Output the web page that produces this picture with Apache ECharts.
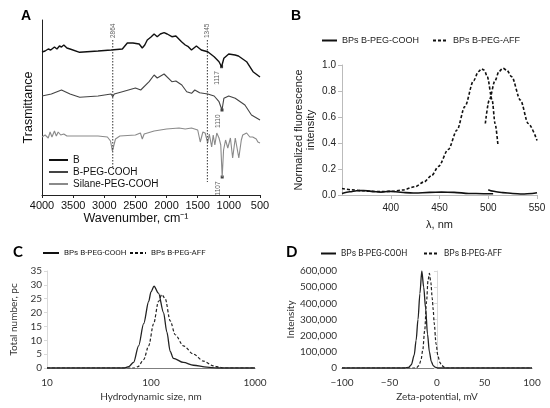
<!DOCTYPE html>
<html>
<head>
<meta charset="utf-8">
<title>FTIR, fluorescence, size and zeta potential</title>
<script src="https://cdn.jsdelivr.net/npm/echarts@6/dist/echarts.min.js"></script>
<style>
  html, body { margin: 0; padding: 0; background: #fff; }
  #chart { width: 550px; height: 408px; }
</style>
</head>
<body>
<div id="chart"></div>
<script>
// A: FTIR spectra, [wavenumber cm-1, transmittance a.u. (offset traces)]
const ftirB = [
  [4000, 143], [3950, 144], [3900, 146], [3860, 145], [3800, 148], [3760, 146], [3720, 149],
  [3687, 148], [3650, 150], [3600, 147], [3550, 146], [3395, 142.7], [3100, 144], [2891, 145],
  [2710, 146], [2630, 152], [2540, 152], [2440, 151], [2390, 147], [2350, 150], [2310, 155],
  [2250, 158], [2200, 161], [2170, 159], [2150, 158.3], [2100, 161], [2040, 162.3], [1990, 161],
  [1915, 158.3], [1850, 159], [1760, 153.3], [1700, 150], [1651, 148.3], [1600, 145], [1573, 143.3],
  [1521, 149], [1490, 147], [1443, 145], [1339, 143.3], [1236, 138.3], [1158, 133.3], [1117, 128.3],
  [1080, 136.7], [1002, 141], [900, 140], [846, 139], [715, 133.3], [612, 123.3], [500, 118]
];
const ftirBPeg = [
  [4000, 99], [3850, 101], [3687, 105], [3550, 101], [3395, 97.7], [3100, 99], [2891, 101],
  [2864, 98.3], [2840, 101], [2710, 103.3], [2500, 107], [2415, 105], [2280, 113.3], [2200, 120],
  [2150, 117], [2040, 121], [1915, 113.3], [1850, 114], [1755, 110], [1677, 103.3], [1599, 101.7],
  [1547, 105], [1469, 102.3], [1339, 101], [1236, 99], [1158, 93.3], [1110, 85], [1080, 96.7],
  [1002, 99], [898, 96.7], [742, 90], [637, 80], [500, 75]
];
const ftirSilane = [
  [4000, 58], [3950, 60], [3900, 57], [3870, 63], [3840, 58], [3800, 64], [3770, 59], [3740, 63],
  [3700, 60], [3650, 61], [3600, 59], [3400, 59], [3100, 59], [2950, 58], [2900, 54], [2870, 44],
  [2850, 46], [2820, 56], [2750, 59], [2500, 60], [2420, 62], [2390, 56], [2360, 61], [2200, 64],
  [2000, 66], [1800, 67], [1700, 66], [1600, 67], [1500, 65], [1459, 53], [1417, 63], [1381, 62],
  [1339, 52], [1314, 61], [1276, 48], [1251, 60], [1225, 50], [1194, 62], [1158, 57], [1130, 50],
  [1107, 18], [1085, 45], [1053, 55], [1017, 47], [975, 57], [939, 37], [897, 57], [840, 37],
  [800, 55], [777, 60], [715, 62], [663, 58], [617, 58], [560, 56], [534, 53], [500, 52]
];
const ftirPeaks = [[1117, 128.3], [1110, 85], [1107, 18]];
const ftirGuides = [[2864, 155, 28], [1345, 155, 13]];

// B: normalized fluorescence, [wavelength nm, intensity]
const flCoohExc = [
  [350, 0.012], [358, 0.025], [365, 0.033], [372, 0.035], [380, 0.028], [390, 0.022], [398, 0.028],
  [405, 0.025], [415, 0.018], [425, 0.015], [440, 0.02], [452, 0.022], [465, 0.02], [480, 0.012],
  [495, 0.01], [505, 0.01]
];
const flCoohEm = [
  [500, 0.04], [503, 0.032], [508, 0.025], [515, 0.018], [525, 0.012], [535, 0.008], [545, 0.012], [550, 0.018]
];
const flAffExc = [
  [350, 0.05], [360, 0.04], [370, 0.033], [380, 0.028], [391, 0.026], [400, 0.028], [412, 0.038],
  [425, 0.064], [434, 0.10], [442, 0.15], [449, 0.22], [459, 0.35], [468, 0.50], [476, 0.68],
  [485, 0.88], [490, 0.95], [493, 0.97], [496, 0.96], [499, 0.91], [504, 0.73], [507, 0.55], [510, 0.38]
];
const flAffEm = [
  [497, 0.55], [501, 0.73], [507, 0.88], [511, 0.95], [515, 0.975], [519, 0.96], [524, 0.91],
  [533, 0.73], [541, 0.55], [550, 0.42]
];

// C: hydrodynamic size distribution, [size nm, number %]
const sizeCooh = [
  [10, 0], [55, 0], [61, 0.5], [68, 2], [76, 8], [85, 16], [95, 24], [100, 27.5], [107, 29.5],
  [118, 27], [132, 20], [142, 13], [153, 6], [164, 3.5], [205, 2], [256, 1], [344, 0.3], [430, 0], [1000, 0]
];
const sizeAff = [
  [10, 0], [70, 0], [75, 0.5], [85, 3], [95, 8], [106, 16], [118, 24], [127, 26.5], [137, 25],
  [153, 17], [171, 12], [205, 8], [256, 5], [319, 2.5], [398, 0.8], [461, 0.2], [500, 0], [1000, 0]
];

// D: zeta potential distribution, [mV, intensity]
const zetaCooh = [
  [-100, 0], [-34, 0], [-30, 4000], [-27, 20000], [-24, 80000], [-22, 170000], [-20, 300000],
  [-18, 460000], [-16, 600000], [-14, 500000], [-12, 370000], [-10, 210000], [-8, 100000],
  [-6, 40000], [-4, 15000], [-2, 5000], [1, 0], [100, 0]
];
const zetaAff = [
  [-100, 0], [-22, 0], [-19, 15000], [-17, 45000], [-15, 110000], [-13, 230000], [-11, 410000],
  [-9.5, 540000], [-8, 585000], [-6.5, 530000], [-5, 430000], [-4, 360000], [-3, 280000],
  [-1, 150000], [1, 75000], [3, 35000], [5, 15000], [8, 4000], [11, 0], [100, 0]
];

const ftirNames = ['B', 'B-PEG-COOH', 'Silane-PEG-COOH'];
const sampleNames = ['BPs B-PEG-COOH', 'BPs B-PEG-AFF'];

const ARIAL = 'Liberation Sans, Arial, sans-serif';
const CALIBRI = 'Lato, Carlito, sans-serif';
const SMALL = 'Roboto, Liberation Sans, sans-serif';

const chart = echarts.init(document.getElementById('chart'), null, { renderer: 'canvas' });

function curve(name, data, grid, color, width, dashed) {
  return {
    name: name,
    type: 'line',
    xAxisIndex: grid,
    yAxisIndex: grid,
    data: data,
    symbol: 'none',
    smooth: grid === 0 ? false : 0.3,
    smoothMonotone: 'x',
    lineStyle: { color: color, width: width, type: dashed ? [3, 2] : 'solid' },
    itemStyle: { color: color },
    emphasis: { disabled: true }
  };
}

// one legend entry, line icon only
function legendItem(name, left, top, font, size, width) {
  return {
    data: [name], left: left, top: top, padding: 0,
    itemWidth: width, itemHeight: 8, selectedMode: false,
    itemStyle: { opacity: 0 },
    textStyle: { fontSize: size, fontFamily: font, color: '#222' }
  };
}

const series = [
  curve(ftirNames[0], ftirB, 0, '#111', 1.4),
  curve(ftirNames[1], ftirBPeg, 0, '#444', 1.1),
  curve(ftirNames[2], ftirSilane, 0, '#8a8a8a', 1.1),
  curve(sampleNames[0], flCoohExc, 1, '#111', 1.6),
  curve(sampleNames[0], flCoohEm, 1, '#111', 1.6),
  curve(sampleNames[1], flAffExc, 1, '#111', 1.6, true),
  curve(sampleNames[1], flAffEm, 1, '#111', 1.6, true),
  curve(sampleNames[0], sizeCooh, 2, '#222', 1.3),
  curve(sampleNames[1], sizeAff, 2, '#222', 1.2, true),
  curve(sampleNames[0], zetaCooh, 3, '#222', 1.3),
  curve(sampleNames[1], zetaAff, 3, '#222', 1.2, true)
];

// dotted guide lines and their labels in panel A
ftirGuides.forEach(function (g) {
  series.push({
    type: 'line', xAxisIndex: 0, yAxisIndex: 0, symbol: 'none', silent: true,
    data: [[g[0], g[1]], [g[0], g[2]]],
    lineStyle: { color: '#333', width: 1, type: [1.5, 1.5] }
  });
});
series.push({
  type: 'scatter', xAxisIndex: 0, yAxisIndex: 0, symbolSize: 0, silent: true,
  data: ftirGuides.map(function (g) { return [g[0], g[1]]; }),
  label: {
    show: true, position: 'top', distance: 2, rotate: 90, align: 'left', verticalAlign: 'middle',
    fontSize: 6.5, color: '#333', fontFamily: ARIAL,
    formatter: function (p) { return String(p.value[0]); }
  }
});
series.push({
  type: 'scatter', xAxisIndex: 0, yAxisIndex: 0, symbol: 'rect', symbolSize: 3, silent: true,
  data: ftirPeaks,
  itemStyle: { color: '#111' },
  label: {
    show: true, position: 'bottom', distance: 3, offset: [0, -4], rotate: 90, align: 'right', verticalAlign: 'middle',
    fontSize: 6.5, color: '#333', fontFamily: ARIAL,
    formatter: function (p) { return String(p.value[0]); }
  }
});

const plain = function (v) { return String(v); };

const option = {
  animation: false,
  backgroundColor: '#fff',
  title: [
    { text: 'A', left: 16, top: 4, textStyle: { fontSize: 14, fontWeight: 'bold', fontFamily: ARIAL, color: '#000' } },
    { text: 'B', left: 286, top: 4, textStyle: { fontSize: 14, fontWeight: 'bold', fontFamily: ARIAL, color: '#000' } },
    { text: 'C', left: 8, top: 240, textStyle: { fontSize: 15, fontWeight: 'bold', fontFamily: CALIBRI, color: '#000' } },
    { text: 'D', left: 281, top: 240, textStyle: { fontSize: 15, fontWeight: 'bold', fontFamily: CALIBRI, color: '#000' } }
  ],
  legend: [
    {
      data: ftirNames, orient: 'vertical', left: 48, top: 154, padding: 0, selectedMode: false,
      itemWidth: 19, itemHeight: 8, itemGap: 0,
      itemStyle: { opacity: 0 },
      lineStyle: { width: 2 },
      textStyle: { fontSize: 10, lineHeight: 12, fontFamily: ARIAL, color: '#111' }
    },
    legendItem(sampleNames[0], 321, 36, ARIAL, 9, 15),
    legendItem(sampleNames[1], 432, 36, ARIAL, 9, 15),
    legendItem(sampleNames[0], 42, 249, SMALL, 8, 16),
    legendItem(sampleNames[1], 129, 249, SMALL, 8, 16),
    legendItem(sampleNames[0], 320, 249, SMALL, 8.5, 15),
    legendItem(sampleNames[1], 423, 249, SMALL, 8.5, 15)
  ],
  grid: [
    { left: 42, top: 20, width: 218, height: 175 },
    { left: 342, top: 65, width: 195, height: 130 },
    { left: 47, top: 271, width: 208, height: 97 },
    { left: 342, top: 271, width: 190, height: 97 }
  ],
  xAxis: [
    {
      gridIndex: 0, type: 'value', min: 500, max: 4000, interval: 500, inverse: true,
      axisLine: { lineStyle: { color: '#222', width: 1 } },
      axisTick: { show: true, length: 3, lineStyle: { color: '#222' } },
      axisLabel: { fontSize: 11, color: '#111', margin: 5, fontFamily: ARIAL, formatter: plain },
      splitLine: { show: false },
      name: 'Wavenumber, cm\u207B\u00B9', nameLocation: 'middle', nameGap: 16,
      nameTextStyle: { fontSize: 12.5, color: '#111', fontFamily: ARIAL, padding: [0, 30, 0, 0] }
    },
    {
      gridIndex: 1, type: 'value', min: 350, max: 550, interval: 50,
      axisLine: { lineStyle: { color: '#bbb' } },
      axisTick: { show: true, length: 4, lineStyle: { color: '#bbb' } },
      axisLabel: { fontSize: 10, color: '#222', margin: 8, fontFamily: ARIAL, showMinLabel: false, formatter: plain },
      splitLine: { show: false },
      name: '\u03BB, nm', nameLocation: 'middle', nameGap: 24,
      nameTextStyle: { fontSize: 11, color: '#222', fontFamily: ARIAL }
    },
    {
      gridIndex: 2, type: 'log', logBase: 10, min: 10, max: 1000,
      axisLine: { lineStyle: { color: '#7f7f7f' } },
      axisTick: { show: false },
      minorTick: { show: false },
      axisLabel: { fontSize: 10, color: '#333', margin: 10, fontFamily: CALIBRI, formatter: plain },
      splitLine: { show: false },
      name: 'Hydrodynamic size, nm', nameLocation: 'middle', nameGap: 24,
      nameTextStyle: { fontSize: 10, color: '#333', fontFamily: CALIBRI }
    },
    {
      gridIndex: 3, type: 'value', min: -100, max: 100, interval: 50,
      axisLine: { onZero: false, lineStyle: { color: '#7f7f7f' } },
      axisTick: { show: false },
      axisLabel: {
        fontSize: 10, color: '#333', margin: 10, fontFamily: CALIBRI,
        formatter: function (v) { return v < 0 ? '\u2212' + Math.abs(v) : String(v); }
      },
      splitLine: { show: false },
      name: 'Zeta-potential, mV', nameLocation: 'middle', nameGap: 24,
      nameTextStyle: { fontSize: 10, color: '#333', fontFamily: CALIBRI }
    }
  ],
  yAxis: [
    {
      gridIndex: 0, type: 'value', min: 0, max: 175,
      axisLine: { show: true, lineStyle: { color: '#222' } },
      axisTick: { show: false }, axisLabel: { show: false }, splitLine: { show: false },
      name: 'Trasmittance', nameLocation: 'middle', nameGap: 7,
      nameTextStyle: { fontSize: 12.5, color: '#111', fontFamily: ARIAL }
    },
    {
      gridIndex: 1, type: 'value', min: 0, max: 1, interval: 0.2,
      axisLine: { show: true, lineStyle: { color: '#bbb' } },
      axisTick: { show: true, length: 4, lineStyle: { color: '#bbb' } },
      axisLabel: { fontSize: 10, color: '#222', margin: 6, fontFamily: ARIAL,
        formatter: function (v) { return v.toFixed(1); } },
      splitLine: { show: false },
      name: 'Normalized fluorescence\nintensity', nameLocation: 'middle', nameGap: 25,
      nameTextStyle: { fontSize: 11, color: '#222', fontFamily: ARIAL, lineHeight: 12 }
    },
    {
      gridIndex: 2, type: 'value', min: 0, max: 35, interval: 5,
      axisLine: { show: true, lineStyle: { color: '#d9d9d9' } },
      axisTick: { show: true, length: 3, lineStyle: { color: '#d9d9d9' } },
      axisLabel: { fontSize: 10, color: '#333', margin: 5, fontFamily: CALIBRI },
      splitLine: { show: false },
      name: 'Total number, pc', nameLocation: 'middle', nameGap: 28,
      nameTextStyle: { fontSize: 10, color: '#333', fontFamily: CALIBRI }
    },
    {
      gridIndex: 3, type: 'value', min: 0, max: 600000, interval: 100000,
      axisLine: { show: true, lineStyle: { color: '#d9d9d9' } },
      axisTick: { show: true, length: 3, lineStyle: { color: '#d9d9d9' } },
      axisLabel: { fontSize: 10, color: '#333', margin: 5, fontFamily: CALIBRI,
        formatter: function (v) { return v.toLocaleString('en-US'); } },
      splitLine: { show: false },
      name: 'Intensity', nameLocation: 'middle', nameGap: 46,
      nameTextStyle: { fontSize: 10, color: '#333', fontFamily: CALIBRI }
    }
  ],
  series: series
};

chart.setOption(option);
</script>
</body>
</html>
